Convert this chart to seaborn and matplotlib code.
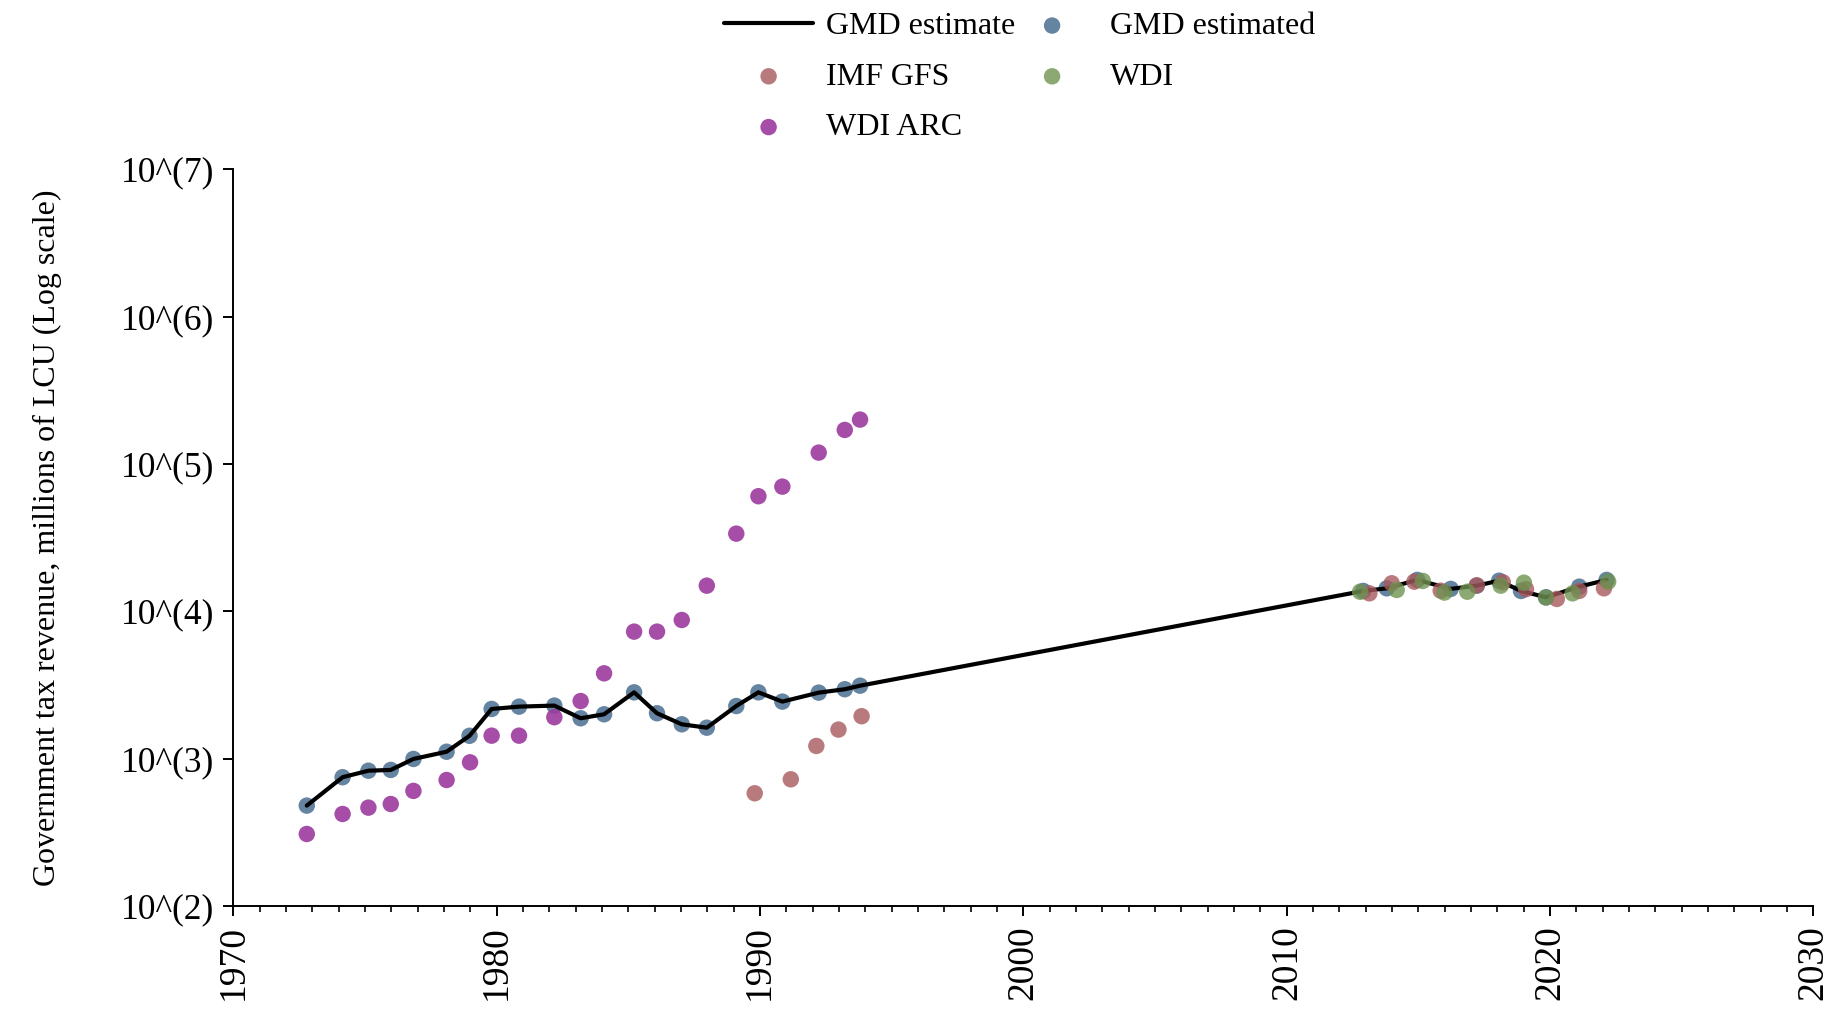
import numpy as np
import pandas as pd
import matplotlib
matplotlib.use('Agg')
import matplotlib.pyplot as plt
import matplotlib.ticker as mticker
import seaborn as sns

# GMD estimate / GMD estimated (same series: line + points)
gmd_years = [1972.79, 1974.15, 1975.13, 1975.98, 1976.84, 1978.10, 1978.97, 1979.81,
             1980.85, 1982.19, 1983.19, 1984.08, 1985.22, 1986.09, 1987.03, 1987.98,
             1989.10, 1989.94, 1990.85, 1992.23, 1993.22, 1993.80,
             2012.91, 2013.80, 2014.96, 2016.23, 2017.22, 2018.07, 2018.90, 2019.85,
             2021.11, 2022.15]
gmd_values = [480, 748, 828, 838, 995, 1114, 1429, 2173,
              2254, 2291, 1879, 2000, 2818, 2032, 1710, 1622,
              2275, 2818, 2438, 2805, 2958, 3126,
              13740, 14320, 16330, 14190, 14930, 16140, 13740, 12450,
              14690, 16330]

# IMF GFS
imf_years = [1989.80, 1991.17, 1992.14, 1992.98, 1993.86,
             2013.14, 2013.99, 2014.85, 2015.85, 2017.22, 2018.21, 2019.09, 2020.26,
             2021.11, 2022.05]
imf_values = [582, 724, 1219, 1574, 1941,
              13240, 15490, 15890, 13800, 15000, 15740, 14130, 12130,
              13740, 14320]

# WDI
wdi_years = [2012.79, 2014.18, 2015.17, 2015.99, 2016.86, 2018.13, 2019.01, 2019.85,
             2020.86, 2022.21]
wdi_values = [13580, 13960, 16070, 13400, 13580, 14930, 15630, 12390,
              13240, 15890]

# WDI ARC
arc_years = [1972.79, 1974.15, 1975.13, 1975.98, 1976.84, 1978.10, 1978.99, 1979.81,
             1980.85, 1982.19, 1983.19, 1984.08, 1985.22, 1986.09, 1987.03, 1987.98,
             1989.10, 1989.94, 1990.85, 1992.23, 1993.22, 1993.80]
arc_values = [308, 421, 465, 492, 604, 716, 944, 1432,
              1432, 1910, 2460, 3793, 7278, 7278, 8730, 14930,
              33650, 60390, 70150, 119400, 170200, 200000]

sns.set_style('ticks')
plt.rcParams['font.family'] = ['Liberation Serif', 'DejaVu Serif']
plt.rcParams['text.color'] = 'black'
plt.rcParams['axes.labelcolor'] = 'black'
plt.rcParams['xtick.color'] = 'black'
plt.rcParams['ytick.color'] = 'black'

fig = plt.figure(figsize=(18.4, 10.1), dpi=100)
ax = fig.add_axes([0.1268, 0.103, 0.8587, 0.7294])

gmd = pd.DataFrame({'year': gmd_years, 'value': gmd_values})
imf = pd.DataFrame({'year': imf_years, 'value': imf_values})
wdi = pd.DataFrame({'year': wdi_years, 'value': wdi_values})
arc = pd.DataFrame({'year': arc_years, 'value': arc_values})

sns.lineplot(data=gmd, x='year', y='value', color='black', linewidth=3.0,
             ax=ax, label='GMD estimate', zorder=3, sort=False)
sns.scatterplot(data=gmd, x='year', y='value', color='#4a6f91', alpha=0.85, s=140,
                edgecolor='none', ax=ax, label='GMD estimated', zorder=2)
sns.scatterplot(data=imf, x='year', y='value', color='#a8595e', alpha=0.8, s=140,
                edgecolor='none', ax=ax, label='IMF GFS', zorder=4)
sns.scatterplot(data=wdi, x='year', y='value', color='#6f9250', alpha=0.8, s=140,
                edgecolor='none', ax=ax, label='WDI', zorder=5)
sns.scatterplot(data=arc, x='year', y='value', color='#9c3a9e', alpha=0.9, s=140,
                edgecolor='none', ax=ax, label='WDI ARC', zorder=2)

ax.set_yscale('log')
ax.set_ylim(1e2, 1e7)
ax.set_xlim(1970, 2030)
ax.yaxis.set_major_locator(mticker.FixedLocator([1e2, 1e3, 1e4, 1e5, 1e6, 1e7]))
ax.yaxis.set_minor_locator(mticker.NullLocator())
ax.set_yticklabels(['10^(2)', '10^(3)', '10^(4)', '10^(5)', '10^(6)', '10^(7)'])
ax.xaxis.set_major_locator(mticker.MultipleLocator(10))
ax.xaxis.set_minor_locator(mticker.MultipleLocator(1))
ax.xaxis.set_major_formatter(mticker.FormatStrFormatter('%d'))

ax.tick_params(axis='x', which='major', length=7, width=1.4, labelsize=27,
               rotation=90, pad=7, color='black', labelcolor='black')
ax.tick_params(axis='x', which='minor', length=4, width=1.2, color='black')
ax.tick_params(axis='y', which='major', length=7, width=1.4, labelsize=25.5,
               pad=7, color='black', labelcolor='black')

for side in ['top', 'right']:
    ax.spines[side].set_visible(False)
for side in ['left', 'bottom']:
    ax.spines[side].set_linewidth(1.4)
    ax.spines[side].set_color('black')

ax.set_xlabel('')
ax.set_ylabel('Government tax revenue, millions of LCU (Log scale)', fontsize=23,
              labelpad=42, color='black')

handles, labels = ax.get_legend_handles_labels()
ax.get_legend().remove()
order = ['GMD estimate', 'IMF GFS', 'WDI ARC', 'GMD estimated', 'WDI']
h = [handles[labels.index(o)] for o in order]
fig.legend(h, order, ncol=2, loc='upper center', bbox_to_anchor=(0.554, 1.017),
           frameon=False, fontsize=23, handlelength=2.8, handletextpad=0.4,
           columnspacing=-0.25, labelspacing=0.67, markerscale=1.0,
           labelcolor='black')

fig.savefig('out.png', dpi=100)
